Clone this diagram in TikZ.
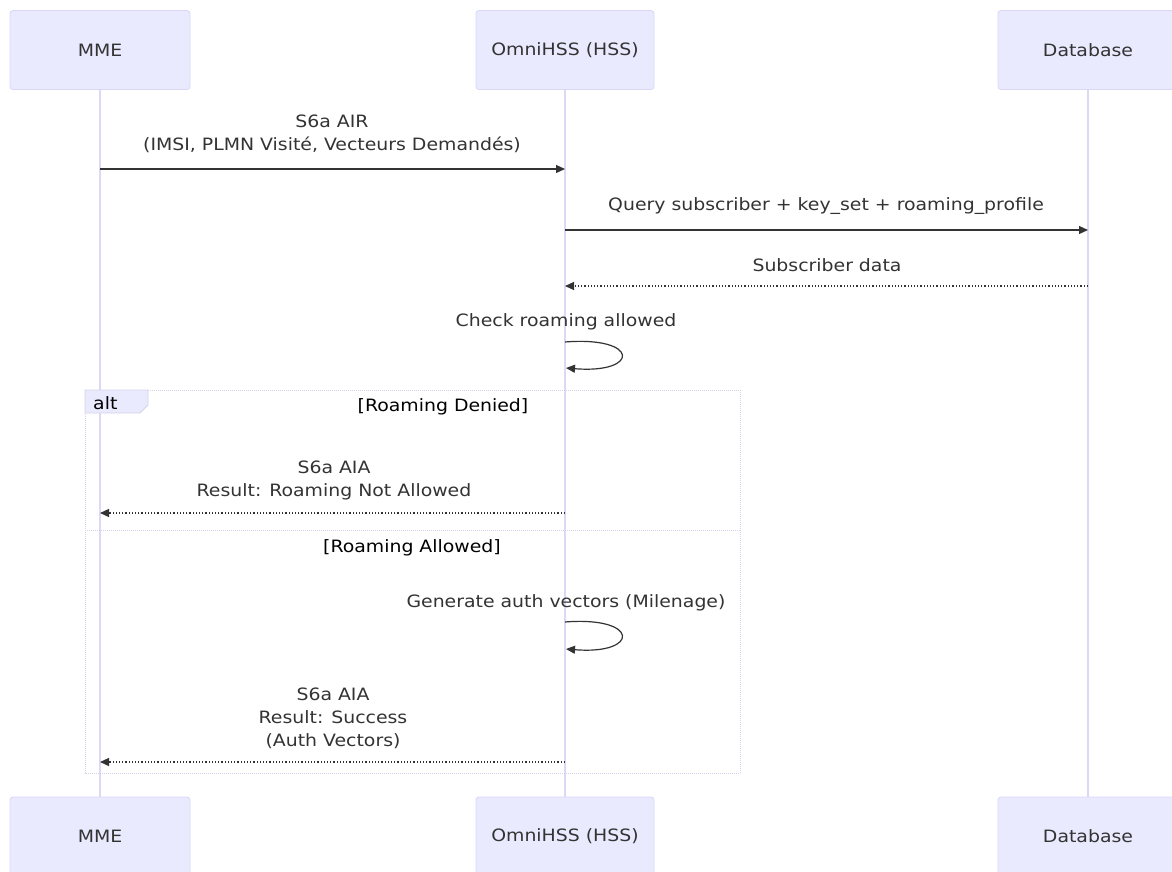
\documentclass[tikz,border=0pt]{standalone}
\usepackage{fontspec}
\setmainfont{DejaVu Sans}[FakeStretch=1.11]
\usetikzlibrary{arrows.meta}
\definecolor{actfill}{HTML}{EAEAFF}
\definecolor{actline}{HTML}{D9D6F7}
\definecolor{life}{HTML}{DCD8F5}
\definecolor{txt}{HTML}{333333}
\definecolor{altline}{HTML}{D4D2E8}
\tikzset{
  x=1pt, y=-1pt,
  actor/.style={draw=actline, fill=actfill, rounded corners=3pt, line width=0.8pt, minimum width=180pt, minimum height=79pt, inner sep=0pt, text=txt, font=\fontsize{17}{20}\selectfont},
  lifeline/.style={draw=life, line width=1.6pt},
  msg/.style={draw=txt, line width=1.2pt, -{Triangle[length=9pt,width=8pt]}},
  rmsg/.style={msg, dotted, line cap=butt},
  lbl/.style={text=txt, font=\fontsize{17}{23}\selectfont, align=center, inner sep=0pt},
  altbox/.style={draw=altline, line width=1pt, densely dotted},
}
\begin{document}
\begin{tikzpicture}
\useasboundingbox[fill=white] (0,0) rectangle (1172,872);
\begin{scope}
\clip (0,0) rectangle (1172,872);
% lifelines
\coordinate (mT) at (100,89); \coordinate (mB) at (100,797);
\coordinate (hT) at (565,89); \coordinate (hB) at (565,797);
\coordinate (dT) at (1088,89); \coordinate (dB) at (1088,797);
\draw[lifeline] (mT) -- (mB);
\draw[lifeline] (hT) -- (hB);
\draw[lifeline] (dT) -- (dB);
% actors
\node[actor] (mme) at (100,50) {MME};
\node[actor, minimum width=178pt] (hss) at (565,50) {OmniHSS (HSS)};
\node[actor] (db) at (1088,50) {Database};
\node[actor] (mme2) at (100,836.5) {MME};
\node[actor, minimum width=178pt] (hss2) at (565,836.5) {OmniHSS (HSS)};
\node[actor] (db2) at (1088,836.5) {Database};
\end{scope}
% alt frame
\draw[altbox] (85,390) rectangle (740,773);
\draw[altbox] (85,530) -- (740,530);
\filldraw[draw=altline, fill=actfill, line width=0.8pt] (85,390) -- (148,390) -- (148,405) -- (140,413) -- (85,413) -- cycle;
\node[lbl, anchor=west, text=black] (alt) at (93,403) {alt};
\node[lbl, text=black] (den) at (443,407) {[Roaming Denied]};
\node[lbl, text=black] (all) at (412,548) {[Roaming Allowed]};
% message 1
\coordinate (m1a) at (100,169); \coordinate (m1b) at (565,169);
\node[lbl] (l1) at (332,134) {S6a AIR\\(IMSI, PLMN Visité, Vecteurs Demandés)};
\draw[msg] (m1a) -- (m1b);
% message 2
\coordinate (m2a) at (565,230); \coordinate (m2b) at (1088,230);
\node[lbl] (l2) at (826,206) {Query subscriber + key\_set + roaming\_profile};
\draw[msg] (m2a) -- (m2b);
% message 3
\coordinate (m3a) at (1088,286); \coordinate (m3b) at (565,286);
\node[lbl] (l3) at (827,265) {Subscriber data};
\draw[rmsg] (m3a) -- (m3b);
% self 1
\coordinate (s1a) at (565,342); \coordinate (s1b) at (566,368);
\node[lbl] (l4) at (566,322) {Check roaming allowed};
\draw[msg] (s1a) .. controls (640,336) and (640,374) .. (s1b);
% message 5
\coordinate (m5a) at (565,513); \coordinate (m5b) at (100,513);
\node[lbl] (l5) at (334,480) {S6a AIA\\Result: Roaming Not Allowed};
\draw[rmsg] (m5a) -- (m5b);
% self 2
\coordinate (s2a) at (565,622); \coordinate (s2b) at (566,649);
\node[lbl] (l6) at (566,603) {Generate auth vectors (Milenage)};
\draw[msg] (s2a) .. controls (640,616) and (640,655) .. (s2b);
% message 7
\coordinate (m7a) at (565,762); \coordinate (m7b) at (100,762);
\node[lbl] (l7) at (333,718.5) {S6a AIA\\Result: Success\\(Auth Vectors)};
\draw[rmsg] (m7a) -- (m7b);
\end{tikzpicture}
\end{document}
